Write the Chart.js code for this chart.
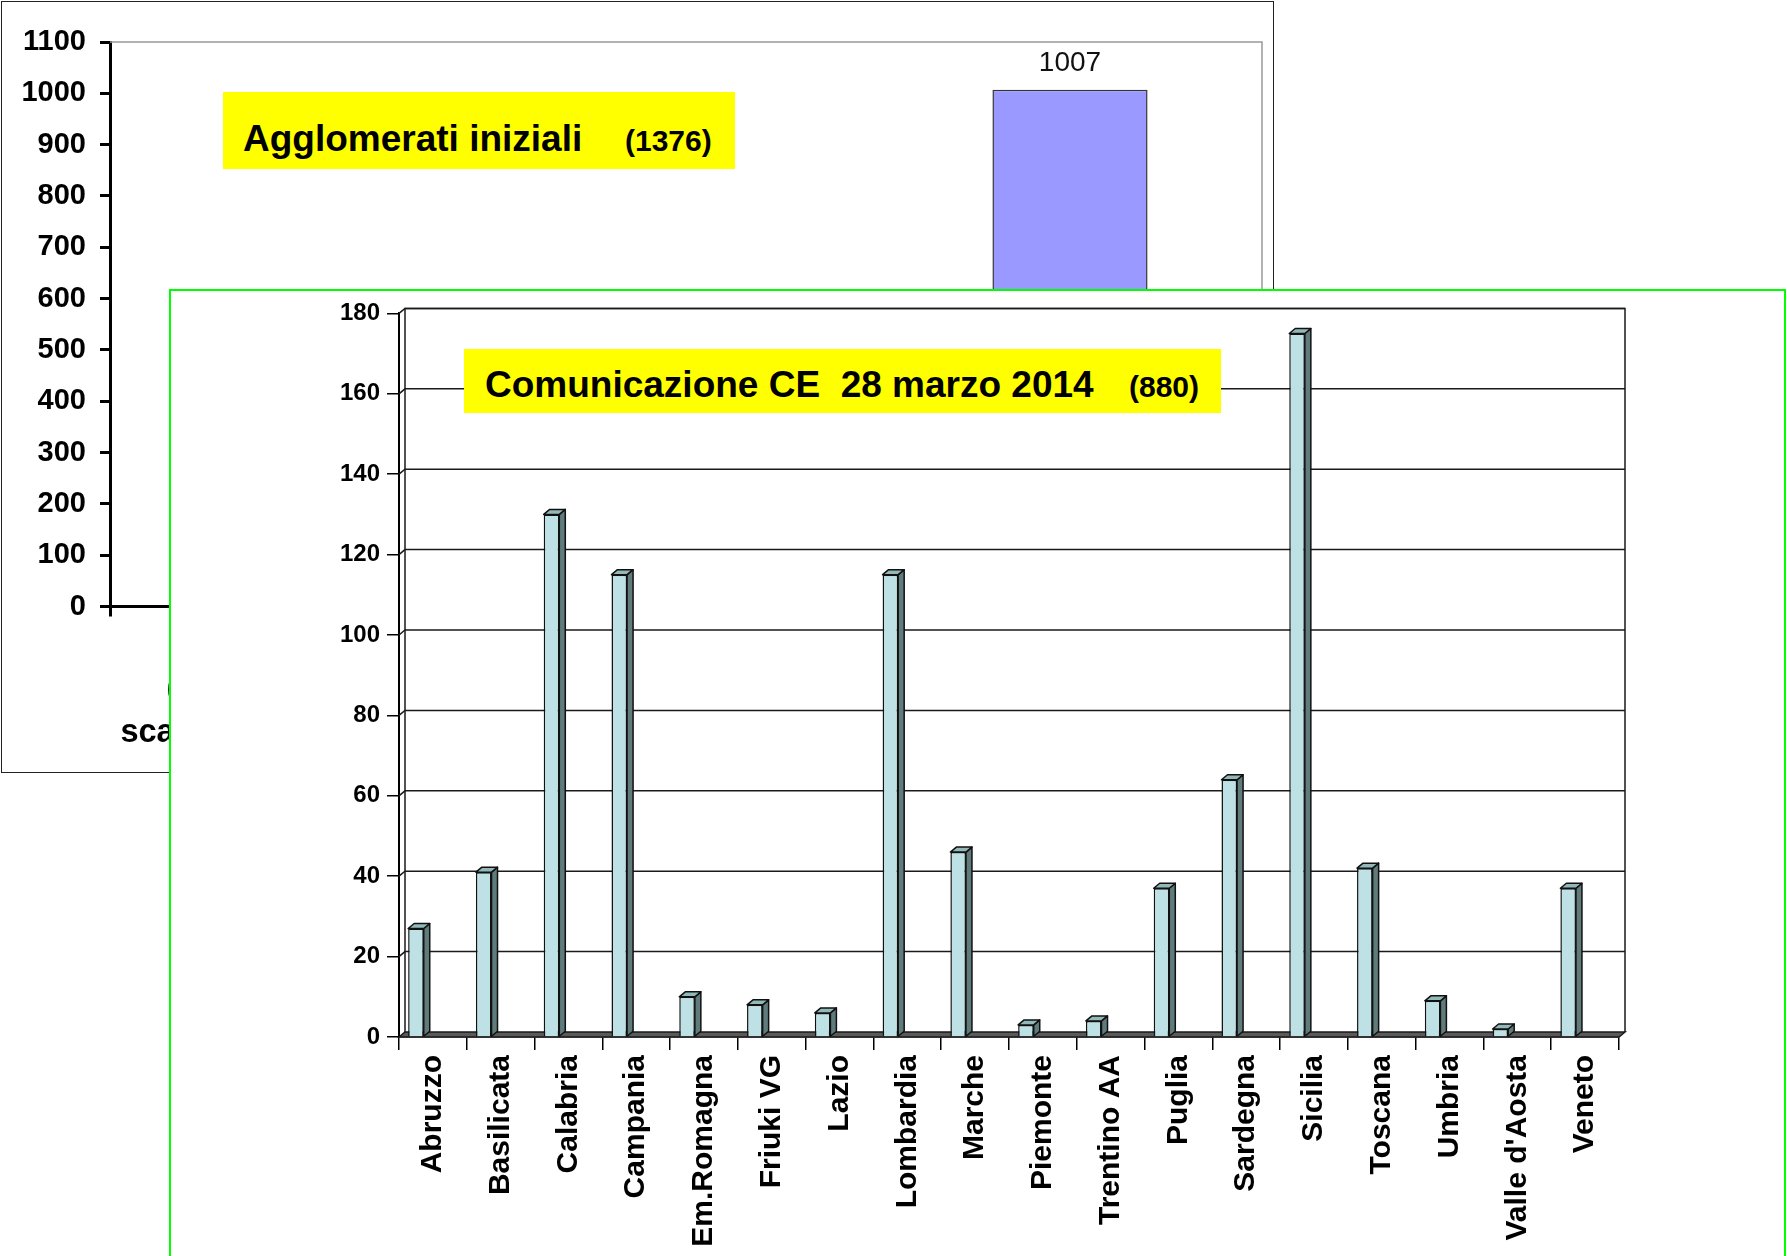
<!DOCTYPE html>
<html lang="it">
<head>
<meta charset="utf-8">
<title>Agglomerati</title>
<script src="https://cdn.jsdelivr.net/npm/chart.js@4/dist/chart.umd.min.js"></script>
<style>
    html, body { margin: 0; padding: 0; background: #fff; width: 1787px; height: 1256px; overflow: hidden; font-family: "Liberation Sans", Arial, sans-serif; }
    .abs { position: absolute; }
    #boxIniziali { left: 1px; top: 1px; width: 1273px; height: 772px; border: 1.5px solid #222; box-sizing: border-box; }
    #cvIniziali { left: 0; top: 0; }
    .etichetta { background: #ffff00; font-weight: bold; color: #000; white-space: pre; }
    .etichetta span { position: absolute; line-height: 1; }
    #pannello { left: 169px; top: 289px; width: 1617px; height: 1000px; border: 2px solid #00ff00; box-sizing: border-box; background: #fff; }
    #cvRegioni { left: 172px; top: 292px; }
</style>
</head>
<body>
<div id="boxIniziali" class="abs"></div>
<canvas id="cvIniziali" class="abs" width="1275" height="775"></canvas>
<div class="abs etichetta" style="left:223px; top:92px; width:512px; height:77px;">
    <span style="left:20px; top:28px; font-size:37px;">Agglomerati iniziali</span>
    <span style="left:402px; top:34px; font-size:30px;">(1376)</span>
</div>
<div id="pannello" class="abs"></div>
<canvas id="cvRegioni" class="abs" width="1613" height="964"></canvas>
<div class="abs etichetta" style="left:464px; top:349px; width:757px; height:64px;">
    <span style="left:21px; top:17px; font-size:37px;">Comunicazione CE  28 marzo 2014</span>
    <span style="left:665px; top:23px; font-size:30px;">(880)</span>
</div>

<script>
// grafico di sfondo: agglomerati iniziali
const categorieIniziali = [['(Direttiva: 91/271)', 'scarichi in aree normali'], '', ''];
const valoriIniziali = [null, null, 1007];

// grafico in primo piano: comunicazione CE 28 marzo 2014
const regioni = ['Abruzzo', 'Basilicata', 'Calabria', 'Campania', 'Em.Romagna', 'Friuki VG', 'Lazio',
    'Lombardia', 'Marche', 'Piemonte', 'Trentino AA', 'Puglia', 'Sardegna', 'Sicilia', 'Toscana',
    'Umbria', "Valle d'Aosta", 'Veneto'];
const agglomerati2014 = [27, 41, 130, 115, 10, 8, 6, 115, 46, 3, 4, 37, 64, 175, 42, 9, 2, 37];

const FONT = '"Liberation Sans", Arial, sans-serif';
Chart.defaults.font.family = FONT;
Chart.defaults.color = '#000';

// bordo grigio in alto e a destra dell'area del grafico
const cornice = {
    id: 'cornice',
    afterDraw(chart) {
        const { ctx, chartArea: a } = chart;
        ctx.save();
        ctx.strokeStyle = '#999';
        ctx.lineWidth = 1.5;
        ctx.beginPath();
        ctx.moveTo(a.left, a.top);
        ctx.lineTo(a.right, a.top);
        ctx.lineTo(a.right, a.bottom);
        ctx.stroke();
        ctx.restore();
    }
};

// valore sopra la barra
const valori = {
    id: 'valori',
    afterDatasetsDraw(chart) {
        const { ctx } = chart;
        const ds = chart.data.datasets[0];
        ctx.save();
        ctx.font = '28px ' + FONT;
        ctx.fillStyle = '#111';
        ctx.textAlign = 'center';
        ctx.textBaseline = 'alphabetic';
        chart.getDatasetMeta(0).data.forEach((bar, i) => {
            if (ds.data[i] == null) return;
            ctx.fillText(ds.data[i], bar.x, bar.y - 19);
        });
        ctx.restore();
    }
};

// effetto 3D: parete di fondo, pavimento, facce laterali e superiori
const prof = { dx: 6, dy: 5 };
const pseudo3d = {
    id: 'pseudo3d',
    beforeDatasetsDraw(chart) {
        const { ctx, chartArea: a, scales: { y } } = chart;
        const { dx, dy } = prof;
        ctx.save();
        ctx.strokeStyle = '#1a1a1a';
        ctx.lineWidth = 1.5;
        y.ticks.forEach(t => {
            if (t.value === 0) return;
            const py = y.getPixelForValue(t.value);
            ctx.beginPath();
            ctx.moveTo(a.left, py);
            ctx.lineTo(a.left + dx, py - dy);
            ctx.lineTo(a.right + dx, py - dy);
            ctx.stroke();
        });
        ctx.beginPath();
        ctx.moveTo(a.left + dx, a.bottom - dy);
        ctx.lineTo(a.left + dx, a.top - dy);
        ctx.lineTo(a.right + dx, a.top - dy);
        ctx.lineTo(a.right + dx, a.bottom - dy);
        ctx.stroke();
        ctx.fillStyle = '#5a5a5a';
        ctx.beginPath();
        ctx.moveTo(a.left, a.bottom);
        ctx.lineTo(a.right, a.bottom);
        ctx.lineTo(a.right + dx, a.bottom - dy);
        ctx.lineTo(a.left + dx, a.bottom - dy);
        ctx.closePath();
        ctx.fill();
        ctx.stroke();
        ctx.restore();
    },
    afterDatasetsDraw(chart) {
        const { ctx } = chart;
        const { dx, dy } = prof;
        ctx.save();
        ctx.lineWidth = 1.5;
        ctx.strokeStyle = '#111';
        ctx.lineJoin = 'round';
        chart.getDatasetMeta(0).data.forEach(bar => {
            const { x, y, base, width } = bar.getProps(['x', 'y', 'base', 'width'], true);
            const l = x - width / 2, r = x + width / 2;
            ctx.fillStyle = '#5f7b7c';
            ctx.beginPath();
            ctx.moveTo(r, y);
            ctx.lineTo(r + dx, y - dy);
            ctx.lineTo(r + dx, base - dy);
            ctx.lineTo(r, base);
            ctx.closePath();
            ctx.fill();
            ctx.stroke();
            ctx.fillStyle = '#93b8ba';
            ctx.beginPath();
            ctx.moveTo(l, y);
            ctx.lineTo(l + dx, y - dy);
            ctx.lineTo(r + dx, y - dy);
            ctx.lineTo(r, y);
            ctx.closePath();
            ctx.fill();
            ctx.stroke();
        });
        ctx.restore();
    }
};

new Chart(document.getElementById('cvIniziali'), {
    type: 'bar',
    data: {
        labels: categorieIniziali,
        datasets: [{
            data: valoriIniziali,
            backgroundColor: '#9999ff',
            borderColor: '#333',
            borderWidth: 1.5,
            categoryPercentage: 0.8,
            barPercentage: 0.505
        }]
    },
    options: {
        responsive: false,
        animation: false,
        layout: { padding: { left: 2, top: 42, right: 13, bottom: 0 } },
        plugins: { legend: { display: false }, tooltip: { enabled: false } },
        scales: {
            x: {
                grid: { drawOnChartArea: false, tickLength: 10, color: '#000', lineWidth: 3 },
                border: { color: '#000', width: 3 },
                ticks: { maxRotation: 0, color: '#000', font: { size: 32.5, weight: 'bold', lineHeight: 1.35 }, padding: 51 },
                afterFit(s) { s.height = 168.5; }
            },
            y: {
                min: 0,
                max: 1100,
                ticks: { stepSize: 100, color: '#000', font: { size: 29, weight: 'bold' }, padding: 14, callback: v => String(v) },
                grid: { drawOnChartArea: false, tickLength: 10, color: '#000', lineWidth: 3 },
                border: { color: '#000', width: 3 },
                afterFit(s) { s.width = 108; }
            }
        }
    },
    plugins: [cornice, valori]
});

new Chart(document.getElementById('cvRegioni'), {
    type: 'bar',
    data: {
        labels: regioni,
        datasets: [
            {
                data: agglomerati2014,
                backgroundColor: '#bde1e4',
                borderColor: '#111',
                borderWidth: 1.5
            },
            { data: [] } // posto vuoto: le colonne stanno nella metà sinistra della categoria
        ]
    },
    options: {
        responsive: false,
        animation: false,
        layout: { padding: { left: 147, top: 21.4, right: 166, bottom: 0 } },
        plugins: { legend: { display: false }, tooltip: { enabled: false } },
        datasets: { bar: { categoryPercentage: 1, barPercentage: 0.46 } },
        scales: {
            x: {
                grid: { drawOnChartArea: false, tickLength: 13, color: '#000', lineWidth: 1.5 },
                border: { color: '#000', width: 1.5 },
                ticks: {
                    minRotation: 90,
                    maxRotation: 90,
                    autoSkip: false,
                    color: '#000',
                    font: { size: 30, weight: 'bold' },
                    padding: 5
                },
                afterFit(s) { s.height = 219; }
            },
            y: {
                min: 0,
                max: 180,
                ticks: { stepSize: 20, color: '#000', font: { size: 24, weight: 'bold' }, padding: 7 },
                grid: { drawOnChartArea: false, tickLength: 12, color: '#000', lineWidth: 1.5 },
                border: { color: '#000', width: 2 },
                afterFit(s) { s.width = 80; }
            }
        }
    },
    plugins: [pseudo3d]
});
</script>
</body>
</html>
